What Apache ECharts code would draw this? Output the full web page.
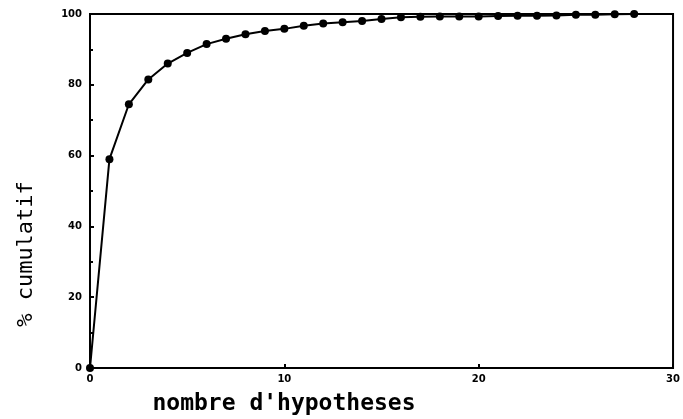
<!DOCTYPE html>
<html>
<head>
<meta charset="utf-8">
<script src="https://cdn.jsdelivr.net/npm/echarts@6/dist/echarts.min.js"></script>
<style>html,body{margin:0;padding:0;background:#fff}#c{width:683px;height:419px}</style>
</head>
<body>
<div id="c"></div>
<script>
var hypotheses = [0,1,2,3,4,5,6,7,8,9,10,11,12,13,14,15,16,17,18,19,20,21,22,23,24,25,26,27,28];
var cumulatif = [0,59,74.5,81.5,86,89,91.5,93,94.3,95.2,95.8,96.7,97.3,97.7,98,98.6,99.1,99.2,99.3,99.3,99.3,99.4,99.5,99.5,99.6,99.8,99.8,99.9,100];
var xTicks = [0,10,20,30];
var yTicks = [0,20,40,60,80,100];
var xTitle = "nombre d'hypotheses";
var yTitle = '% cumulatif';

var chart = echarts.init(document.getElementById('c'), null, {renderer:'canvas'});
var tickFont = {color:'#000', fontSize:10, fontWeight:'bold', fontFamily:'DejaVu Sans'};
chart.setOption({
  animation:false,
  backgroundColor:'#fff',
  grid:{left:90, right:5, top:14, bottom:51, show:true, borderColor:'#000', borderWidth:2, backgroundColor:'transparent'},
  graphic:[
    {type:'text', x:284, y:404, style:{text:xTitle, fill:'#000', font:'bold 23px "DejaVu Sans Mono"', align:'center', verticalAlign:'middle'}},
    {type:'text', x:26, y:254, rotation:Math.PI/2, style:{text:yTitle, fill:'#000', font:'22px "DejaVu Sans Mono"', align:'center', verticalAlign:'middle'}}
  ],
  xAxis:{
    type:'value', min:xTicks[0], max:xTicks[xTicks.length-1], interval:10,
    axisLine:{lineStyle:{color:'#000', width:2}},
    axisTick:{inside:true, length:4, lineStyle:{color:'#000', width:2}},
    axisLabel:Object.assign({margin:6}, tickFont),
    splitLine:{show:false}
  },
  yAxis:{
    type:'value', min:yTicks[0], max:yTicks[yTicks.length-1], interval:20,
    axisLine:{lineStyle:{color:'#000', width:2}},
    axisTick:{inside:true, length:4, lineStyle:{color:'#000', width:2}},
    minorTick:{show:true, splitNumber:2, length:3, lineStyle:{color:'#000', width:2}},
    axisLabel:Object.assign({margin:8}, tickFont),
    splitLine:{show:false}
  },
  series:[{
    type:'line',
    data:hypotheses.map(function(x,i){return [x, cumulatif[i]];}),
    symbol:'circle', symbolSize:8,
    lineStyle:{color:'#000', width:2},
    itemStyle:{color:'#000'},
    clip:false
  }]
});
</script>
</body>
</html>
